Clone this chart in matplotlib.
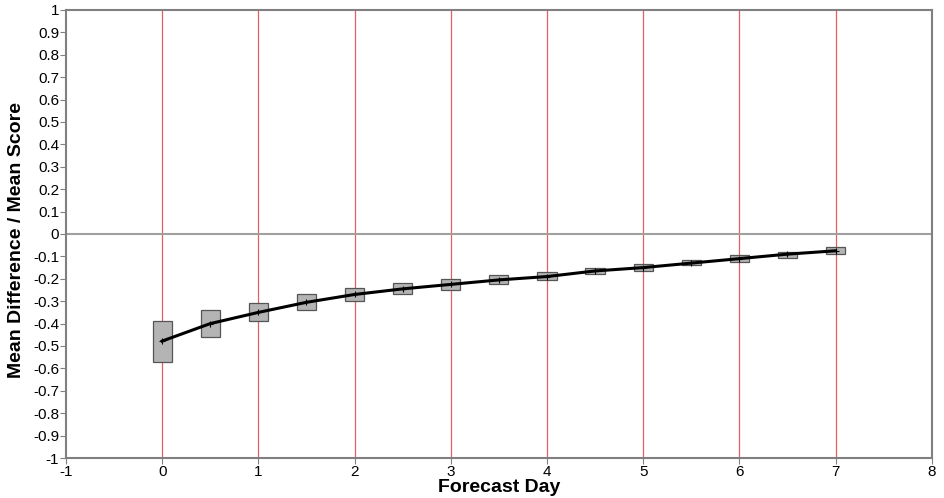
import numpy as np
import matplotlib.pyplot as plt

plt.rcParams['font.family'] = ['Liberation Sans', 'DejaVu Sans']
plt.rcParams['axes.unicode_minus'] = False

# forecast days and mean values
days = [0, 0.5, 1, 1.5, 2, 2.5, 3, 3.5, 4, 4.5, 5, 5.5, 6, 6.5, 7]
mean_vals = [-0.478, -0.40, -0.35, -0.305, -0.27, -0.245, -0.225, -0.205,
             -0.19, -0.165, -0.15, -0.13, -0.11, -0.09, -0.075]
box_top = [-0.39, -0.34, -0.31, -0.27, -0.24, -0.22, -0.20, -0.185,
           -0.17, -0.15, -0.135, -0.115, -0.095, -0.08, -0.06]
box_bottom = [-0.57, -0.46, -0.39, -0.34, -0.30, -0.27, -0.25, -0.225,
              -0.205, -0.18, -0.165, -0.14, -0.125, -0.105, -0.09]
grid_days = [0, 1, 2, 3, 4, 5, 6, 7]

fig = plt.figure(figsize=(9.45, 4.98), dpi=100)
ax = fig.add_axes([0.0698, 0.0803, 0.9162, 0.8997])

for d in grid_days:
    ax.axvline(d, color='#e06060', lw=0.9, zorder=1)
ax.axhline(0, color='#a0a0a0', lw=1.5, zorder=1)

box_w = 0.2
for d, t, b in zip(days, box_top, box_bottom):
    ax.add_patch(plt.Rectangle((d - box_w / 2, b), box_w, t - b,
                               facecolor='#b4b4b4', edgecolor='#555555',
                               lw=0.9, zorder=2))

ax.plot(days, mean_vals, color='black', lw=2.2, zorder=3)
ax.plot(days, mean_vals, '+', color='black', ms=5, mew=0.8, zorder=4)

ax.set_xlim(-1, 8)
ax.set_ylim(-1, 1)
ax.set_xticks(range(-1, 9))
yt = np.round(np.arange(-1, 1.01, 0.1), 1)
ax.set_yticks(yt)
ax.set_yticklabels(['0' if v == 0 else ('%g' % v) for v in yt])

for s in ax.spines.values():
    s.set_color('#808080')
    s.set_linewidth(1.5)

ax.tick_params(axis='both', direction='out', length=4, width=0.8,
               color='#808080', labelsize=11, pad=1)
ax.set_xlabel('Forecast Day', fontsize=14, fontweight='bold', labelpad=0)
ax.set_ylabel('Mean Difference / Mean Score', fontsize=14, fontweight='bold')
ax.yaxis.set_label_coords(-0.047, 0.487)

fig.savefig('out.png', dpi=100)
